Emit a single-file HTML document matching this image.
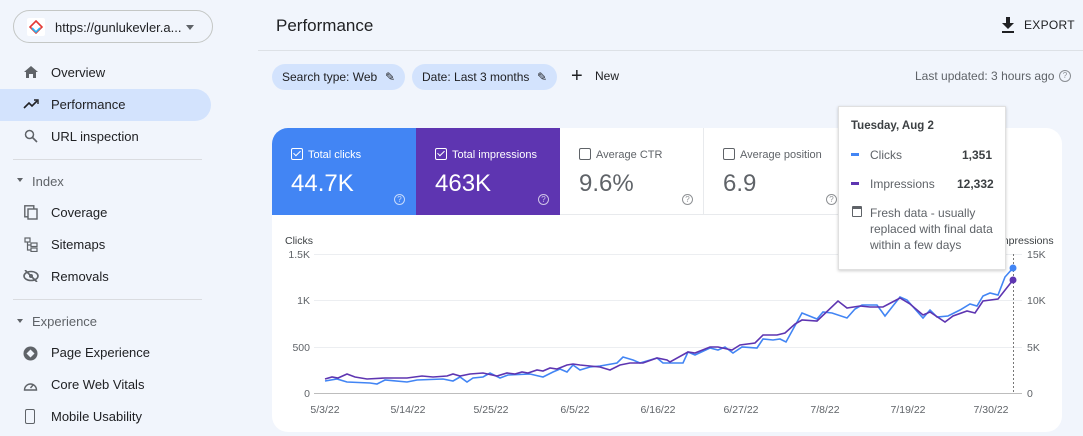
<!DOCTYPE html>
<html><head><meta charset="utf-8"><style>
*{margin:0;padding:0;box-sizing:border-box}
body{width:1083px;height:436px;overflow:hidden;background:#f1f5fc;font-family:"Liberation Sans",Arial,sans-serif;color:#3c4043;position:relative}
.a{position:absolute;white-space:nowrap}
.nav{font-size:13px;color:#202124}
.sec{font-size:13px;color:#5f6368}
.chip{position:absolute;height:26px;border-radius:13px;background:#d3e3fd;font-size:12px;color:#202124;line-height:26px;padding-left:10px}
.tile{position:absolute;top:128px;height:87px;width:144px;font-size:11px}
.tile .l{position:absolute;left:19px;top:20px}
.tile .v{position:absolute;left:19px;top:42px;font-size:24px}
.cb{display:inline-block;width:12px;height:12px;border:1.3px solid currentColor;border-radius:2px;vertical-align:-2px;margin-right:5px;position:relative}
.cb.ck::after{content:"";position:absolute;left:3px;top:0px;width:3px;height:6px;border-right:1.5px solid currentColor;border-bottom:1.5px solid currentColor;transform:rotate(45deg)}
.q{position:absolute;width:11px;height:11px;border:1px solid currentColor;border-radius:50%;font-size:8px;line-height:9px;text-align:center;opacity:.7}
</style></head><body>
<div class="a" style="left:13px;top:10px;width:200px;height:33px;border:1px solid #c4c7c5;border-radius:17px;background:#f1f5fc"></div>
<div class="a" style="left:27px;top:18px;width:18px;height:18px;background:#fff;border-radius:2px"></div>
<svg class="a" style="left:29px;top:20px" width="14" height="14"><path d="M7 1 L13 7 L7 13 L1 7Z" fill="none" stroke="#e53935" stroke-width="1.6"/><path d="M3 8 L7 12 L11 8" fill="none" stroke="#29b6f6" stroke-width="1.6"/></svg>
<div class="a nav" style="left:55px;top:20px;font-size:13px">https://gunlukevler.a...</div>
<div class="a" style="left:186px;top:25px;border:4px solid transparent;border-top:5px solid #5f6368"></div>
<div class="a" style="left:0;top:89px;width:211px;height:32px;background:#d3e3fd;border-radius:0 16px 16px 0"></div>
<svg class="a" style="left:24px;top:66px" width="14" height="12"><path d="M7 0 L14 6 H12 V12 H9 V8 H5 V12 H2 V6 H0Z" fill="#5f6368"/></svg>
<div class="a nav" style="left:51px;top:65px">Overview</div>
<svg class="a" style="left:23px;top:98px" width="16" height="12"><path d="M1 10 L6 5 L9 8 L14 3" fill="none" stroke="#202124" stroke-width="1.6"/><path d="M11 2 H15 V6" fill="none" stroke="#202124" stroke-width="1.4"/></svg>
<div class="a nav" style="left:51px;top:97px">Performance</div>
<svg class="a" style="left:24px;top:129px" width="14" height="14"><circle cx="5.5" cy="5.5" r="4" fill="none" stroke="#5f6368" stroke-width="1.5"/><path d="M8.5 8.5 L13 13" stroke="#5f6368" stroke-width="1.6"/></svg>
<div class="a nav" style="left:51px;top:129px">URL inspection</div>
<div class="a" style="left:13px;top:159px;width:189px;height:1px;background:#dadce0"></div>
<div class="a" style="left:17px;top:178px;border:3.5px solid transparent;border-top:4px solid #5f6368"></div>
<div class="a sec" style="left:32px;top:174px">Index</div>
<svg class="a" style="left:24px;top:205px" width="14" height="15"><rect x="0.8" y="0.8" width="9" height="11" fill="none" stroke="#5f6368" stroke-width="1.4"/><rect x="4" y="4" width="9" height="10" fill="#f1f5fc" stroke="#5f6368" stroke-width="1.4"/></svg>
<div class="a nav" style="left:51px;top:205px">Coverage</div>
<svg class="a" style="left:24px;top:237px" width="14" height="15"><rect x="1" y="1" width="5" height="4" fill="none" stroke="#5f6368" stroke-width="1.2"/><rect x="7" y="6" width="6" height="3.5" fill="none" stroke="#5f6368" stroke-width="1.2"/><rect x="7" y="11" width="6" height="3.5" fill="none" stroke="#5f6368" stroke-width="1.2"/><path d="M3.5 5 V13 H7 M3.5 8 H7" fill="none" stroke="#5f6368" stroke-width="1.2"/></svg>
<div class="a nav" style="left:51px;top:237px">Sitemaps</div>
<svg class="a" style="left:23px;top:270px" width="16" height="12"><ellipse cx="8" cy="6" rx="7" ry="4.5" fill="none" stroke="#5f6368" stroke-width="1.6"/><circle cx="8" cy="6" r="2" fill="#5f6368"/><path d="M2 0 L14 12" stroke="#5f6368" stroke-width="1.6"/></svg>
<div class="a nav" style="left:51px;top:269px">Removals</div>
<div class="a" style="left:13px;top:299px;width:189px;height:1px;background:#dadce0"></div>
<div class="a" style="left:17px;top:319px;border:3.5px solid transparent;border-top:4px solid #5f6368"></div>
<div class="a sec" style="left:32px;top:314px">Experience</div>
<svg class="a" style="left:23px;top:346px" width="15" height="15"><circle cx="7.5" cy="7.5" r="7" fill="#5f6368"/><path d="M7.5 3.5 L11.5 7.5 L7.5 11.5 L3.5 7.5Z" fill="#f1f5fc"/></svg>
<div class="a nav" style="left:51px;top:345px">Page Experience</div>
<svg class="a" style="left:23px;top:379px" width="15" height="12"><path d="M1.5 11 A6 6 0 1 1 13.5 11Z" fill="none" stroke="#5f6368" stroke-width="1.4"/><path d="M7.5 9 L10 6" stroke="#5f6368" stroke-width="1.4"/></svg>
<div class="a nav" style="left:51px;top:377px">Core Web Vitals</div>
<div class="a" style="left:25px;top:409px;width:10px;height:15px;border:1.6px solid #5f6368;border-radius:2px"></div>
<div class="a nav" style="left:51px;top:409px">Mobile Usability</div>

<div class="a" style="left:276px;top:16px;font-size:17px;color:#202124">Performance</div>
<div class="a" style="left:258px;top:50px;width:825px;height:1px;background:#dde1e6"></div>
<svg class="a" style="left:1001px;top:17px" width="14" height="16"><path d="M5 0 H9 V6 H13 L7 12 L1 6 H5Z" fill="#202124"/><rect x="1" y="14" width="12" height="2" fill="#202124"/></svg>
<div class="a" style="left:1024px;top:18px;font-size:12px;color:#202124;letter-spacing:.3px">EXPORT</div>

<div class="chip" style="left:272px;top:64px;width:133px">Search type: Web <span style="position:absolute;right:10px;font-size:12px">✎</span></div>
<div class="chip" style="left:412px;top:64px;width:145px">Date: Last 3 months <span style="position:absolute;right:10px;font-size:12px">✎</span></div>
<div class="a" style="left:571px;top:64px;font-size:20px;color:#202124;line-height:24px">+</div>
<div class="a" style="left:595px;top:69px;font-size:12px;color:#202124">New</div>
<div class="a" style="left:915px;top:69px;font-size:12px;color:#5f6368">Last updated: 3 hours ago</div>
<div class="q" style="left:1059px;top:70px;width:12px;height:12px;color:#5f6368">?</div>

<div class="a" style="left:272px;top:128px;width:790px;height:304px;background:#fff;border-radius:16px"></div>
<div class="tile" style="left:272px;background:#4285f4;color:#fff;border-top-left-radius:16px"><div class="l"><span class="cb ck"></span>Total clicks</div><div class="v">44.7K</div><div class="q" style="left:122px;top:66px">?</div></div>
<div class="tile" style="left:416px;background:#5e35b1;color:#fff"><div class="l"><span class="cb ck"></span>Total impressions</div><div class="v">463K</div><div class="q" style="left:122px;top:66px">?</div></div>
<div class="tile" style="left:560px;color:#5f6368;border-right:1px solid #e8eaed;border-bottom:1px solid #e8eaed"><div class="l"><span class="cb"></span>Average CTR</div><div class="v">9.6%</div><div class="q" style="left:122px;top:66px">?</div></div>
<div class="tile" style="left:704px;color:#5f6368;border-bottom:1px solid #e8eaed"><div class="l"><span class="cb"></span>Average position</div><div class="v">6.9</div><div class="q" style="left:122px;top:66px">?</div></div>

<svg class="a" style="left:0;top:0" width="1083" height="436" font-family="Liberation Sans, Arial, sans-serif" font-size="10.5" fill="#5f6368">
<g stroke="#eceef1" stroke-width="1"><line x1="314" y1="254.5" x2="1022" y2="254.5"/><line x1="314" y1="300.5" x2="1022" y2="300.5"/><line x1="314" y1="347.5" x2="1022" y2="347.5"/></g>
<line x1="314" y1="393.5" x2="1022" y2="393.5" stroke="#bdbdbd"/>
<text x="285" y="244" fill="#3c4043">Clicks</text>
<g text-anchor="end"><text x="310" y="258">1.5K</text><text x="310" y="304">1K</text><text x="310" y="351">500</text><text x="310" y="397">0</text></g>
<text x="1027" y="258">15K</text><text x="1027" y="304">10K</text><text x="1027" y="351">5K</text><text x="1027" y="397">0</text>
<text x="997" y="244" fill="#3c4043">Impressions</text>
<g text-anchor="middle"><text x="325" y="413">5/3/22</text><text x="408" y="413">5/14/22</text><text x="491" y="413">5/25/22</text><text x="575" y="413">6/5/22</text><text x="658" y="413">6/16/22</text><text x="741" y="413">6/27/22</text><text x="825" y="413">7/8/22</text><text x="908" y="413">7/19/22</text><text x="991" y="413">7/30/22</text></g>
<line x1="1013.5" y1="254" x2="1013.5" y2="393" stroke="#777" stroke-dasharray="2,2"/>
<polyline fill="none" stroke="#4285f4" stroke-width="1.6" points="325,381 337,379 347,382 370,383 377,384 385,380 407,382 417,380 443,379 453,381 460,377 467,382 473,378 483,377 490,373 500,378 508,375 530,374 543,377 553,372 560,369 567,372 573,365 580,370 590,367 600,366 617,363 623,357 633,360 640,363 657,358 663,363 670,363 683,363 688,352 695,355 710,348 718,350 725,347 733,353 742,347 757,348 763,339 773,340 780,339 786,342 802,313 817,319 823,312 832,313 847,318 855,309 862,305 877,305 885,316 900,297 907,300 923,318 930,310 937,317 948,316 960,310 970,304 977,306 983,296 990,293 998,295 1005,277 1013,268"/>
<polyline fill="none" stroke="#5e35b1" stroke-width="1.6" points="325,379 332,377 338,378 347,374 355,377 367,379 385,378 407,378 422,376 433,377 447,376 453,374 460,376 470,374 483,373 497,376 507,373 515,374 522,372 528,373 537,370 543,371 550,368 557,369 567,365 573,364 580,365 590,366 600,367 610,370 620,365 630,363 643,363 657,358 667,360 670,362 688,352 695,353 710,347 718,347 732,350 740,345 755,343 763,335 777,335 785,333 795,324 802,320 817,321 838,301 847,308 860,306 870,307 883,307 900,298 910,304 923,315 930,312 945,322 953,316 967,311 975,313 983,301 998,299 1013,280"/>
<circle cx="1013" cy="268" r="3.5" fill="#4285f4"/><circle cx="1013" cy="280" r="3.5" fill="#5e35b1"/>
</svg>

<div class="a" style="left:838px;top:106px;width:168px;height:164px;background:#fff;border:1px solid #e0e0e0;box-shadow:0 1px 3px rgba(0,0,0,.2)"></div>
<div class="a" style="left:851px;top:120px;font-size:11.5px;color:#3c4043;font-weight:bold">Tuesday, Aug 2</div>
<div class="a" style="left:851px;top:153px;width:8px;height:2.5px;background:#4285f4"></div>
<div class="a" style="left:870px;top:148px;font-size:12px;color:#5f6368">Clicks</div>
<div class="a" style="left:962px;top:148px;font-size:12px;color:#3c4043;font-weight:bold">1,351</div>
<div class="a" style="left:851px;top:182px;width:8px;height:2.5px;background:#5e35b1"></div>
<div class="a" style="left:870px;top:177px;font-size:12px;color:#5f6368">Impressions</div>
<div class="a" style="left:957px;top:177px;font-size:12px;color:#3c4043;font-weight:bold">12,332</div>
<div class="a" style="left:852px;top:206px;width:10px;height:11px;border:1.5px solid #5f6368;border-top-width:3px;border-radius:1px"></div>
<div class="a" style="left:870px;top:205px;font-size:12px;color:#5f6368;line-height:16px;white-space:normal;width:130px">Fresh data - usually replaced with final data within a few days</div>
</body></html>
